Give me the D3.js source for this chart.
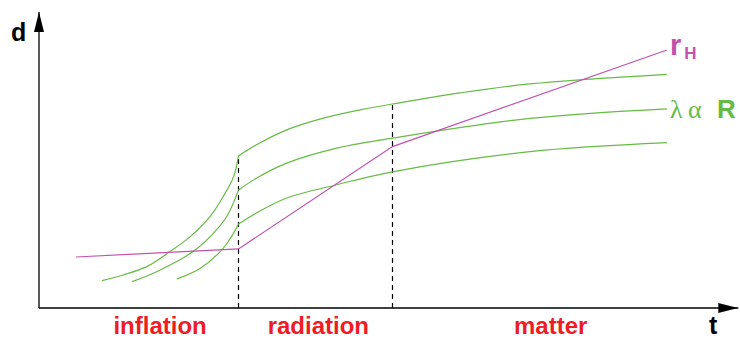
<!DOCTYPE html>
<html>
<head>
<meta charset="utf-8">
<script src="https://cdn.jsdelivr.net/npm/d3@7"></script>
<style>
  body { margin: 0; background: #fff; }
  svg { display: block; font-family: "Liberation Sans", Arial, sans-serif; }
</style>
</head>
<body>
<div id="chart"></div>
<script>
// phase boundaries (t) and labels
const phases = ['inflation', 'radiation', 'matter'];
const phaseCenters = [17.3, 39.9, 73.1];
const boundaries = [28.5, 50.5];

// Hubble radius r_H (t, d)
const hubble = [[5.3, 17.0], [28.5, 19.7], [50.5, 53.8], [89.7, 86.0]];

// three physical wavelengths, split into inflation part and later part
const waveInflation = [
  [[9.0, 9.1], [12.0, 11.0], [15.4, 13.8], [18.7, 18.8], [21.6, 23.8], [24.4, 30.4], [26.3, 37.1], [27.8, 43.8], [28.5, 50.7]],
  [[13.3, 8.8], [16.8, 12.1], [22.0, 18.8], [24.9, 24.9], [26.8, 30.4], [28.5, 39.3]],
  [[19.7, 9.7], [23.0, 13.2], [26.1, 19.3], [27.5, 23.8], [28.5, 28.0]]
];
const waveLater = [
  [[28.5, 50.7], [31.0, 54.3], [35.3, 59.3], [40.5, 63.2], [46.2, 66.2], [50.5, 68.0], [60.1, 71.7], [70.1, 74.7], [89.7, 77.9]],
  [[28.5, 39.3], [31.0, 43.2], [35.3, 48.2], [42.4, 53.2], [50.5, 56.6], [70.1, 63.2], [89.7, 66.4]],
  [[28.5, 28.0], [31.0, 31.6], [35.3, 36.6], [42.4, 41.0], [50.5, 45.4], [70.1, 52.1], [89.7, 55.1]]
];

const width = 740, height = 338;
const purple = '#c251ae', green = '#66bb44', red = '#ee1c25';

const svg = d3.select('#chart').append('svg')
  .attr('width', width).attr('height', height);

const x = d3.scaleLinear().domain([0, 100]).range([39, 739]);
const y = d3.scaleLinear().domain([0, 100]).range([308, 8]);

const defs = svg.append('defs');
defs.append('marker')
  .attr('id', 'arrow').attr('viewBox', '0 0 20 10')
  .attr('refX', 20).attr('refY', 5)
  .attr('markerWidth', 20).attr('markerHeight', 10)
  .attr('markerUnits', 'userSpaceOnUse').attr('orient', 'auto')
  .append('path').attr('d', 'M0,0L20,5L0,10Z').attr('fill', '#000');

// axes
svg.append('line')
  .attr('x1', x(0)).attr('y1', y(0)).attr('x2', x(0)).attr('y2', y(98.7))
  .attr('stroke', '#000').attr('stroke-width', 1.3).attr('marker-end', 'url(#arrow)');
svg.append('line')
  .attr('x1', x(0)).attr('y1', y(0)).attr('x2', x(99.9)).attr('y2', y(0))
  .attr('stroke', '#000').attr('stroke-width', 1.3).attr('marker-end', 'url(#arrow)');

// dashed phase boundaries up to top wavelength
const topWave = waveLater[0];
svg.selectAll('line.boundary').data(boundaries).join('line')
  .attr('class', 'boundary')
  .attr('x1', d => x(d)).attr('x2', d => x(d))
  .attr('y1', y(0))
  .attr('y2', d => y(topWave.find(p => p[0] === d)[1]))
  .attr('stroke', '#000').attr('stroke-width', 1.2)
  .attr('stroke-dasharray', '5,4');

const smooth = d3.line().x(d => x(d[0])).y(d => y(d[1])).curve(d3.curveCatmullRom.alpha(0.5));
const straight = d3.line().x(d => x(d[0])).y(d => y(d[1]));

svg.selectAll('path.wave-infl').data(waveInflation).join('path')
  .attr('class', 'wave-infl').attr('d', smooth)
  .attr('fill', 'none').attr('stroke', green).attr('stroke-width', 1.2);
svg.selectAll('path.wave-late').data(waveLater).join('path')
  .attr('class', 'wave-late').attr('d', smooth)
  .attr('fill', 'none').attr('stroke', green).attr('stroke-width', 1.2);

svg.append('path').attr('d', straight(hubble))
  .attr('fill', 'none').attr('stroke', purple).attr('stroke-width', 1.2);

// axis labels
svg.append('text').attr('x', 11).attr('y', 41)
  .attr('font-size', 25).attr('font-weight', 'bold').text('d');
svg.append('text').attr('x', 709).attr('y', 334)
  .attr('font-size', 25).attr('font-weight', 'bold').text('t');

// phase labels
svg.selectAll('text.phase').data(phases).join('text')
  .attr('class', 'phase')
  .attr('x', (d, i) => x(phaseCenters[i])).attr('y', 334)
  .attr('text-anchor', 'middle').attr('font-size', 24).attr('font-weight', 'bold')
  .attr('fill', red).text(d => d);

// curve labels
const rh = svg.append('text').attr('x', 670).attr('y', 55)
  .attr('fill', purple).attr('font-weight', 'bold');
rh.append('tspan').attr('font-size', 29).text('r');
rh.append('tspan').attr('font-size', 17).attr('dx', 3).attr('dy', 4).text('H');

const serif = '"Liberation Serif", "Times New Roman", serif';
const lam = svg.append('text').attr('y', 118).attr('fill', green);
lam.append('tspan').attr('x', 670).attr('font-family', serif).attr('font-size', 26).text('λ');
lam.append('tspan').attr('x', 688).attr('font-family', serif).attr('font-size', 26).text('α');
lam.append('tspan').attr('x', 717).attr('font-size', 26).attr('font-weight', 'bold').text('R');
</script>
</body>
</html>
